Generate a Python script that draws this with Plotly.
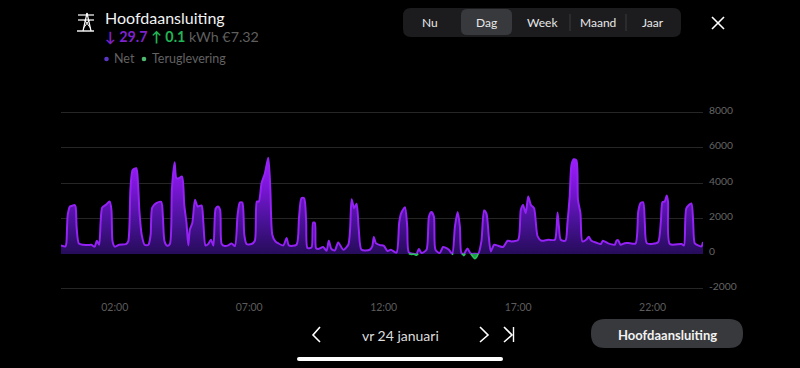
import plotly.graph_objects as go

# time axis in 5-minute slots since midnight
net_slot = [0,2,2.4,3,4,5,6,6.5,7,8,10,12,13.5,15,16,17,17.7,18.4,20,21.7,22.5,23,24,26,29,30,31,32,33.6,34.4,35,36,37.3,39,40,40.7,42.5,44.7,45.5,46.2,47.4,48.6,49.5,50.7,51.5,52.5,54,55,
 56,56.8,57.5,58.6,59.8,61,62.7,63.5,64.5,65.7,66.9,68,69,70,71,71.7,73.1,74.6,76.1,77.6,78.8,79.8,80.9,81.8,82.8,85,86.5,87.4,88.3,89.5,91,92.5,93.4,94.3,95.5,97,99.2,100.7,101.7,105.1,106.2,107.3,108.5,109.4,110,111.8,112.5,113.3,113.8,114.8,117,118.5,119.5,120.7,122.2,123.7,126,128.2,129,129.7,130.8,131.9,132.9,134.1,137.8,138.9,139.6,140.5,142.3,144.1,145.7,147.2,149.7,150.9,151.7,153.5,154.5,155.2,157.2,158.7,159.7,160.9,163.1,164.2,165.3,166.4,167.1,169,170.5,
 171.3,173.1,174.6,175.8,177,178,178.7,179.8,180.5,181.4,182.9,184.7,186.2,187.6,188.8,189.9,190.9,191.8,193.3,195.1,197.3,199.3,201,204,205.2,206.2,207.4,208.5,209.7,211.1,212.7,214.4,217.4,220.4,221.1,221.6,222.2,223,225.1,226,227,227.8,228.8,230,230.7,231.8,232.7,
 234.5,235.5,236.7,239,240.9,241.8,244.2,247.1,247.9,248.6,249.7,251.6,253.8,256.4,257.6,258.6,259.8,260.5,261.4,264.2,266.5,267.7,268.4,269.4,270.3,270.9,271.7,276.9,278,279.1,281.3,282.1,282.8,284.3,285.8,286.5]
net_w = [470,415,600,2200,2680,2720,2770,2680,1450,570,510,490,510,400,735,510,1830,2620,2770,2960,2490,700,400,510,550,700,3700,4755,4850,3900,2400,1075,510,510,1075,2620,2870,2940,2020,700,450,550,3700,5190,4280,4280,4380,2770,
 1740,470,1360,1740,3060,2680,2740,1830,470,550,790,470,2550,2680,2490,550,435,470,585,435,2200,2900,2900,1075,550,550,735,2960,2960,4000,4570,5450,3720,1075,735,585,470,890,470,510,2020,3150,3150,1830,320,360,1770,1740,320,265,380,170,735,265,190,640,225,510,1360,3095,2585,2830,1360,225,225,415,945,600,490,450,150,225,60,1740,2260,2640,1550,75,0,0,265,40,225,2110,2360,2110,225,40,380,
 360,225,0,1550,2360,1550,40,0,130,300,0,0,0,700,2450,2260,980,130,510,450,380,735,700,790,2490,2770,2300,3250,2770,2585,980,735,790,790,1360,2340,1550,790,735,1740,3250,5040,5360,5300,3056,2300,700,
 810,960,735,620,550,735,585,510,735,770,510,600,600,585,2400,2870,2920,1830,600,565,660,1830,2920,2960,3300,2960,550,550,470,2585,2850,1830,600,470,415,660]
assert len(net_slot) == len(net_w)

feed_a_slot = [155.2,156.5,157.5,158.7,159.4]
feed_a_w = [0,-40,-30,-90,0]
feed_b_slot = [174.6,175]
feed_b_w = [0,-50]
feed_c_slot = [179,179.8,180.4]
feed_c_w = [0,-110,0]
feed_d_slot = [182.9,183.8,184.7,185.6,186.2]
feed_d_w = [0,-170,-290,-170,0]

hour_ticks = [24, 84, 144, 204, 264]
hour_labels = ["02:00", "07:00", "12:00", "17:00", "22:00"]
power_ticks = [-2000, 0, 2000, 4000, 6000, 8000]
periods = ["Nu", "Dag", "Week", "Maand", "Jaar"]

L, T, W, H = 61, 111, 642, 180
FONT = "Lato"
def px(x): return (x - L) / W
def py(y): return (T + H - y) / H

def rrect(x0, y0, x1, y1, r, fill):
    X0, X1, Y0, Y1 = px(x0), px(x1), py(y0), py(y1)
    rx, ry = r / W, r / H
    p = (f"M{X0+rx},{Y0} L{X1-rx},{Y0} Q{X1},{Y0} {X1},{Y0-ry} L{X1},{Y1+ry} Q{X1},{Y1} {X1-rx},{Y1} "
         f"L{X0+rx},{Y1} Q{X0},{Y1} {X0},{Y1+ry} L{X0},{Y0-ry} Q{X0},{Y0} {X0+rx},{Y0} Z")
    return dict(type="path", xref="paper", yref="paper", path=p, fillcolor=fill, line=dict(width=0), layer="below")

def pline(pts, color="#ffffff", width=1.5):
    p = "M" + " L".join(f"{px(a)},{py(b)}" for a, b in pts)
    return dict(type="path", xref="paper", yref="paper", path=p, line=dict(color=color, width=width))

def dot(cx, cy, r, color):
    return dict(type="circle", xref="paper", yref="paper", x0=px(cx - r), x1=px(cx + r), y0=py(cy + r), y1=py(cy - r),
                fillcolor=color, line=dict(width=0))

def text(x, y, s, size, color, anchor="left", bold=False):
    return dict(xref="paper", yref="paper", x=px(x), y=py(y), text=f"<b>{s}</b>" if bold else s, showarrow=False,
                xanchor=anchor, yanchor="middle", font=dict(family=FONT, size=size, color=color), borderpad=0)

fig = go.Figure()
fig.add_trace(go.Scatter(x=net_slot, y=net_w, mode="lines", name="Net", fill="tozeroy",
    line=dict(color="#9422f5", width=2, shape="spline", smoothing=0.7),
    fillgradient=dict(type="vertical", start=0, stop=5400,
                      colorscale=[[0, "#260c5a"], [0.35, "#4a1299"], [0.7, "#7a16d6"], [1, "#a01cff"]])))
for sx, sy in [(feed_a_slot, feed_a_w), (feed_b_slot, feed_b_w), (feed_c_slot, feed_c_w), (feed_d_slot, feed_d_w)]:
    fig.add_trace(go.Scatter(x=sx, y=sy, mode="lines", name="Teruglevering", fill="tozeroy", fillcolor="#1f9e48",
        line=dict(color="#27c45a", width=1.5, shape="spline", smoothing=0.4)))

shapes = [
    rrect(403, 8, 681, 37, 8, "#1c1c1e"),
    rrect(461, 9, 512, 35, 6, "#37393c"),
    pline([(570, 14), (570, 31)], "#3a3a3c", 1),
    pline([(626, 14), (626, 31)], "#3a3a3c", 1),
    pline([(712, 17), (724, 29)], "#ffffff", 1.6),
    pline([(724, 17), (712, 29)], "#ffffff", 1.6),
    rrect(591, 319, 743, 348, 14, "#37393c"),
    rrect(297, 357, 503, 361, 2, "#ffffff"),
    pline([(320, 327), (313, 335), (320, 342)], "#ffffff", 1.6),
    pline([(480, 327), (488, 335), (480, 342)], "#ffffff", 1.6),
    pline([(504, 327), (512, 335), (504, 342)], "#ffffff", 1.6),
    pline([(513.5, 327), (513.5, 342)], "#ffffff", 1.4),
    pline([(77, 31), (94, 31)], "#ffffff", 1.4),
    pline([(78, 15), (94, 15)], "#ffffff", 1.2),
    pline([(78, 20), (94, 20)], "#ffffff", 1.2),
    pline([(87, 13), (83, 31)], "#ffffff", 1.2),
    pline([(87, 13), (91, 31)], "#ffffff", 1.2),
    pline([(84.5, 20), (90.5, 28)], "#ffffff", 1),
    pline([(89.5, 20), (83.5, 28)], "#ffffff", 1),
    dot(106.5, 59, 2.3, "#5b35c5"),
    dot(144, 59, 2.3, "#4fb870"),
]

anns = [
    text(103.5, 17, "Hoofdaansluiting", 16, "#f2f2f2"),
    text(104, 37, '<span style="color:#7e22ce"><b>↓ 29.7</b></span> <span style="color:#22b455"><b>↑ 0.1</b></span> <span style="color:#5f5f5f">kWh €7.32</span>', 14.3, "#5f5f5f"),
    text(113, 59, "Net", 12.5, "#626262"),
    text(151, 59, "Teruglevering", 12.5, "#626262"),
    text(400, 335, "vr 24 januari", 14, "#dddddd", "center"),
    text(667, 335, "Hoofdaansluiting", 13, "#f2f2f2", "center", True),
]
for cx, lab in zip([430, 486, 542, 598, 653], periods):
    anns.append(text(cx, 22, lab, 12, "#e8e8e8", "center"))
for v in power_ticks:
    anns.append(dict(xref="paper", yref="y", x=px(707.5), y=v, text=str(v), showarrow=False, xanchor="left", yanchor="middle",
                     yshift=2.5, borderpad=0, font=dict(family=FONT, size=10.3, color="#666666")))

fig.update_layout(
    width=800, height=368, autosize=False,
    margin=dict(l=L, r=800 - L - W, t=T, b=368 - T - H, pad=0),
    paper_bgcolor="#000000", plot_bgcolor="#000000", showlegend=False,
    shapes=shapes, annotations=anns,
    font=dict(family=FONT),
    xaxis=dict(range=[0, 286.5], tickmode="array", tickvals=hour_ticks, ticktext=hour_labels, showgrid=False,
               zeroline=False, showline=False, ticks="", ticklabelstandoff=8,
               tickfont=dict(size=10.5, color="#5c5c5c", family=FONT)),
    yaxis=dict(range=[-2114, 8096], tickmode="array", tickvals=power_ticks, showticklabels=False,
               gridcolor="#262626", gridwidth=1, zeroline=True,
               zerolinecolor="#2a1560", zerolinewidth=1, showline=False, ticks=""),
)
fig.write_html("out.html", config={"displayModeBar": False},
               post_script="document.body.style.margin='0';document.body.style.background='#000';")
